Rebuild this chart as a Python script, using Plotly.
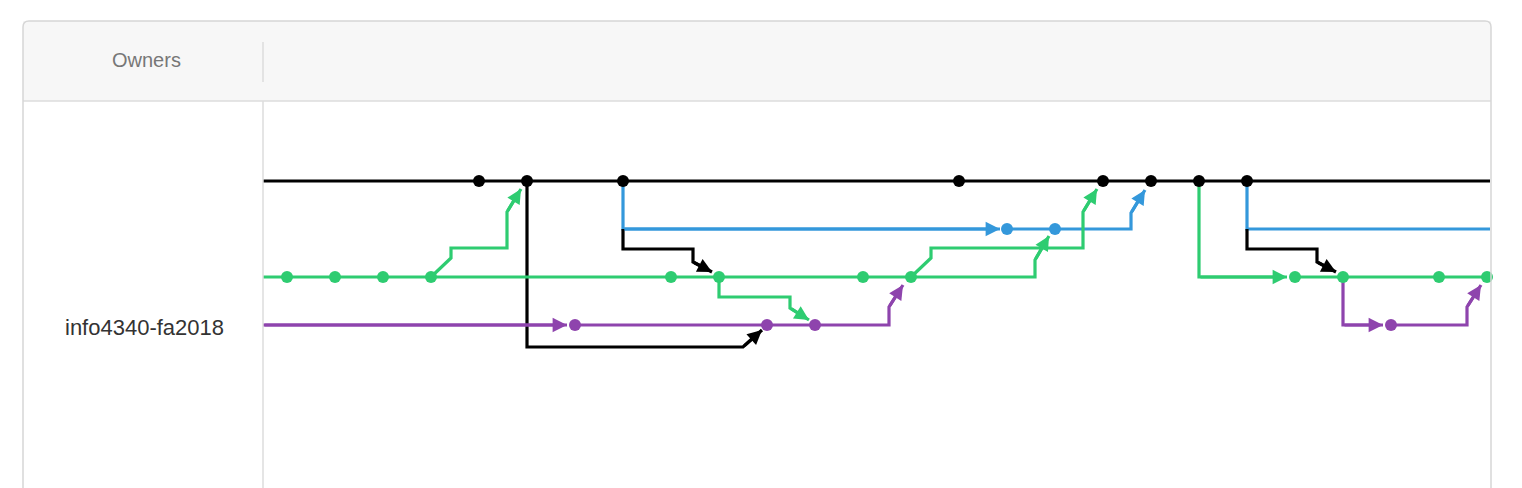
import plotly.graph_objects as go

# Network graph of the repo, in page-pixel units (x right, y down)
BLACK, BLUE, GREEN, PURPLE = "#000000", "#3498db", "#2ecc71", "#8e44ad"

black_commits_x = [479, 527, 623, 959, 1103, 1151, 1199, 1247]
green_commits_x = [287, 335, 383, 431, 671, 719, 863, 911, 1295, 1343, 1439, 1487]
purple_commits_x = [575, 767, 815, 1391]
blue_commits_x = [1007, 1055]
row_y = {"black": 181, "blue": 229, "green": 277, "purple": 325}

# (color, xs, ys, ends_with_arrow)
paths = [
    (BLACK, [263, 1490], [181, 181], False),
    (BLUE, [623, 623, 1000], [181, 229, 229], True),
    (BLUE, [1007, 1131, 1131, 1145], [229, 229, 213, 190], True),
    (BLACK, [623, 623, 693, 693, 712], [229, 249, 249, 262, 272], True),
    (BLACK, [527, 527, 743, 762], [181, 347, 347, 330], True),
    (GREEN, [719, 719, 790, 790, 809], [277, 297, 297, 308, 320], True),
    (PURPLE, [263, 567], [325, 325], True),
    (PURPLE, [575, 889, 889, 903], [325, 325, 307, 285], True),
    (GREEN, [263, 1035, 1035, 1049], [277, 277, 260, 236], True),
    (GREEN, [431, 451, 451, 507, 507, 521], [277, 258, 248, 248, 212, 189], True),
    (GREEN, [911, 931, 931, 1083, 1083, 1097], [277, 258, 248, 248, 212, 189], True),
    (GREEN, [1199, 1199, 1287], [181, 277, 277], True),
    (GREEN, [1295, 1487], [277, 277], False),
    (BLUE, [1247, 1247, 1490], [181, 229, 229], False),
    (BLACK, [1247, 1247, 1317, 1317, 1336], [229, 249, 249, 262, 272], True),
    (PURPLE, [1343, 1343, 1383], [277, 325, 325], True),
    (PURPLE, [1391, 1467, 1467, 1481], [325, 325, 307, 285], True),
]

fig = go.Figure()

# table frame
shapes = [
    dict(type="rect", x0=23, x1=1491, y0=21, y1=101, fillcolor="#f7f7f7", line_width=0, layer="below"),
    dict(type="line", x0=23, x1=1491, y0=101, y1=101, line=dict(color="#dddddd", width=1.5)),
    dict(type="line", x0=263, x1=263, y0=101, y1=496, line=dict(color="#dddddd", width=1.5)),
    dict(type="line", x0=263, x1=263, y0=42, y1=82, line=dict(color="#dddddd", width=1.5)),
    dict(type="path", path="M 23,496 L 23,27 Q 23,21 29,21 L 1485,21 Q 1491,21 1491,27 L 1491,496",
         line=dict(color="#d6d6d6", width=1.5)),
]

annotations = [
    dict(x=146, y=60, text="Owners", showarrow=False, font=dict(size=20, color="#777777")),
    dict(x=144, y=327, text="info4340-fa2018", showarrow=False, font=dict(size=22, color="#333333")),
]

for color, xs, ys, arrow in paths:
    fig.add_trace(go.Scatter(x=xs, y=ys, mode="lines", line=dict(color=color, width=3.2),
                             hoverinfo="skip", showlegend=False))
    if arrow:
        annotations.append(dict(x=xs[-1], y=ys[-1], ax=xs[-2], ay=ys[-2], axref="x", ayref="y",
                                xref="x", yref="y", text="", showarrow=True, arrowhead=2,
                                arrowsize=0.9, arrowwidth=3.2, arrowcolor=color, standoff=0))

for color, xs, key in [(BLACK, black_commits_x, "black"), (GREEN, green_commits_x, "green"),
                       (PURPLE, purple_commits_x, "purple"), (BLUE, blue_commits_x, "blue")]:
    fig.add_trace(go.Scatter(x=xs, y=[row_y[key]] * len(xs), mode="markers",
                             marker=dict(color=color, size=12), showlegend=False))

# page body has an 8px margin; offset the ranges so units equal page pixels
fig.update_layout(
    width=1522, height=488, margin=dict(l=0, r=0, t=0, b=0),
    paper_bgcolor="white", plot_bgcolor="white",
    font=dict(family="Liberation Sans, Arial, sans-serif"),
    xaxis=dict(range=[8, 1530], visible=False, fixedrange=True),
    yaxis=dict(range=[496, 8], visible=False, fixedrange=True),
    shapes=shapes, annotations=annotations,
)

fig.write_html("out.html", config={"displayModeBar": False})
